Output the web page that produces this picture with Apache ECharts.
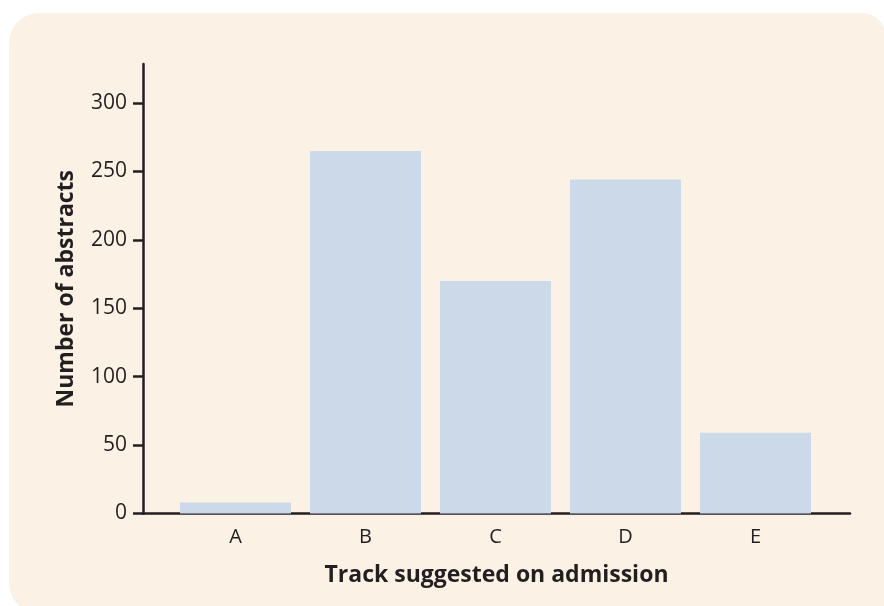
<!DOCTYPE html>
<html>
<head>
<meta charset="utf-8">
<script src="https://cdn.jsdelivr.net/npm/echarts@6/dist/echarts.min.js"></script>
<style>html,body{margin:0;padding:0;background:#fff;}#c{width:884px;height:606px;}</style>
</head>
<body>
<div id="c"></div>
<script>
const categories = ['A', 'B', 'C', 'D', 'E'];
const abstracts = [8, 265, 170, 244, 59];
const yTicks = [0, 50, 100, 150, 200, 250, 300];
const xTitle = 'Track suggested on admission';
const yTitle = 'Number of abstracts';

const positions = categories.map((c, i) => i);
const barData = abstracts.map((v, i) => [positions[i], v]);

const dark = '#231f20';
const font = '"Open Sans", "Noto Sans", sans-serif';

const chart = echarts.init(document.getElementById('c'), null, {renderer: 'canvas'});
chart.setOption({
  backgroundColor: '#ffffff',
  animation: false,
  graphic: [{
    type: 'rect',
    z: -10,
    silent: true,
    shape: {x: 9, y: 13, width: 877, height: 600, r: [30, 24, 0, 30]},
    style: {fill: '#fcf1e5'}
  }],
  grid: {left: 143, right: 34, top: 64, bottom: 92.5},
  xAxis: {
    type: 'value',
    min: -0.7115,
    max: 4.727,
    splitLine: {show: false},
    axisTick: {show: false},
    axisLine: {show: true, onZero: false, lineStyle: {color: dark, width: 2.5}},
    axisLabel: {
      customValues: positions,
      formatter: v => categories[Math.round(v)],
      color: dark, fontSize: 20, fontFamily: font, margin: 14
    },
    name: xTitle,
    nameLocation: 'middle',
    nameGap: 50,
    nameTextStyle: {color: dark, fontSize: 23, fontWeight: 'bold', fontFamily: font}
  },
  yAxis: {
    type: 'value',
    min: 0,
    max: 328.5,
    interval: 50,
    splitLine: {show: false},
    axisLine: {show: true, onZero: false, lineStyle: {color: dark, width: 2.5}},
    axisTick: {show: true, customValues: yTicks, length: 10, lineStyle: {color: dark, width: 2.5}},
    axisLabel: {customValues: yTicks, color: dark, fontSize: 21, fontFamily: font, margin: 16},
    name: yTitle,
    nameLocation: 'middle',
    nameGap: 65,
    nameTextStyle: {color: dark, fontSize: 23, fontWeight: 'bold', fontFamily: font}
  },
  series: [{
    type: 'bar',
    data: barData,
    barWidth: 111,
    itemStyle: {color: '#cbd9e8'},
    z: 1
  }]
});
</script>
</body>
</html>
